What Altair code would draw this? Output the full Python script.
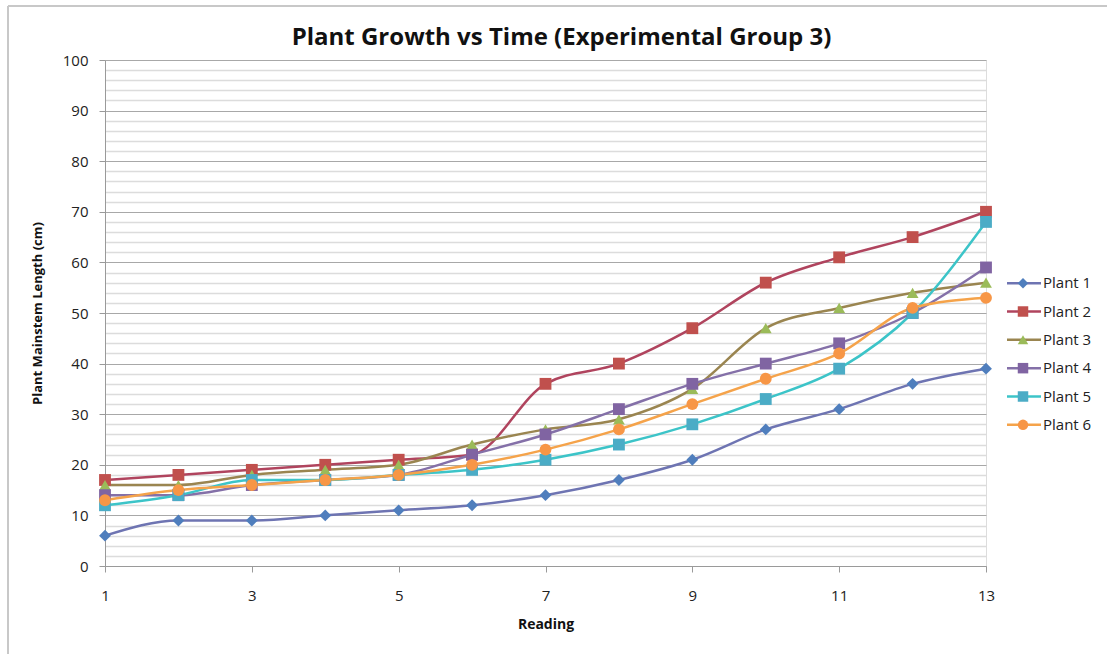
import altair as alt
import pandas as pd

# Readings taken for each plant (mainstem length in cm)
readings = list(range(1, 14))
plants = ["Plant 1", "Plant 2", "Plant 3", "Plant 4", "Plant 5", "Plant 6"]
plant_1 = [6, 9, 9, 10, 11, 12, 14, 17, 21, 27, 31, 36, 39]
plant_2 = [17, 18, 19, 20, 21, 22, 36, 40, 47, 56, 61, 65, 70]
plant_3 = [16, 16, 18, 19, 20, 24, 27, 29, 35, 47, 51, 54, 56]
plant_4 = [14, 14, 16, 17, 18, 22, 26, 31, 36, 40, 44, 50, 59]
plant_5 = [12, 14, 17, 17, 18, 19, 21, 24, 28, 33, 39, 50, 68]
plant_6 = [13, 15, 16, 17, 18, 20, 23, 27, 32, 37, 42, 51, 53]
chart_title = "Plant Growth vs Time (Experimental Group 3)"

series = [plant_1, plant_2, plant_3, plant_4, plant_5, plant_6]
rows = []
for name, vals in zip(plants, series):
    for r, v in zip(readings, vals):
        rows.append({"plant": name, "reading": r, "length": v})
df = pd.DataFrame(rows)
legend_df = pd.DataFrame({"plant": plants})
title_df = pd.DataFrame({"title": [chart_title]})

line_colors = ["#6e74b2", "#b0445e", "#9a8550", "#8470a8", "#3cc4c8", "#f5a34a"]
marker_colors = ["#4f7ebd", "#c0504d", "#9bbb59", "#8064a2", "#4bacc6", "#f79646"]
marker_shapes = ["diamond", "square", "triangle-up", "square", "square", "circle"]

FONT = "Open Sans"
W, H = 881, 506

stroke_scale = alt.Scale(domain=plants, range=line_colors)
fill_scale = alt.Scale(domain=plants, range=marker_colors)
shape_scale = alt.Scale(domain=plants, range=marker_shapes)

x_enc = alt.X(
    "reading:Q",
    scale=alt.Scale(domain=[1, 13], nice=False, zero=False),
    axis=alt.Axis(
        title="Reading",
        values=[1, 3, 5, 7, 9, 11, 13],
        format="d",
        grid=False,
        labelFlush=False,
        domainColor="#9a9a9a",
        tickColor="#9a9a9a",
        tickSize=6,
        labelPadding=16,
        labelFontSize=15,
        labelColor="#222222",
        labelFont=FONT,
        titleFont=FONT,
        titleFontSize=14,
        titleFontWeight="bold",
        titleColor="#111111",
        titlePadding=14,
    ),
)

y_enc = alt.Y(
    "length:Q",
    scale=alt.Scale(domain=[0, 100], nice=False),
    axis=alt.Axis(
        title="Plant Mainstem Length (cm)",
        values=list(range(0, 101, 2)),
        labelExpr="datum.value % 10 === 0 ? datum.label : ''",
        gridColor={"condition": {"test": "datum.value % 10 === 0", "value": "#a8a8a8"}, "value": "#dcdcdc"},
        gridWidth={"condition": {"test": "datum.value % 10 === 0", "value": 1.2}, "value": 1.5},
        tickOpacity={"condition": {"test": "datum.value % 10 === 0", "value": 1}, "value": 0},
        labelFlush=False,
        domainColor="#9a9a9a",
        tickColor="#9a9a9a",
        tickSize=6,
        labelPadding=11,
        labelFontSize=15,
        labelColor="#222222",
        labelFont=FONT,
        titleFont=FONT,
        titleFontSize=13,
        titleFontWeight="bold",
        titleColor="#111111",
        titlePadding=18,
    ),
)

lines = alt.Chart(df).mark_line(interpolate="monotone", strokeWidth=2.5).encode(
    x=x_enc,
    y=y_enc,
    stroke=alt.Stroke("plant:N", scale=stroke_scale, legend=None),
    detail="plant:N",
)

points = alt.Chart(df).mark_point(filled=True, size=140, opacity=1).encode(
    x=x_enc,
    y=y_enc,
    fill=alt.Fill("plant:N", scale=fill_scale, legend=None),
    shape=alt.Shape("plant:N", scale=shape_scale, legend=None),
)

plot = alt.layer(lines, points)

# Legend drawn as its own layer: a short line, a marker and the plant name
leg_y = alt.Y("plant:N", scale=alt.Scale(domain=plants, range=[209, 379]), axis=None)

leg_lines = alt.Chart(legend_df).mark_rule(strokeWidth=2.5).encode(
    x=alt.value(902),
    x2=alt.value(936),
    y=leg_y,
    stroke=alt.Stroke("plant:N", scale=stroke_scale, legend=None),
)
leg_points = alt.Chart(legend_df).mark_point(filled=True, size=110, opacity=1).encode(
    x=alt.value(918),
    y=leg_y,
    fill=alt.Fill("plant:N", scale=fill_scale, legend=None),
    shape=alt.Shape("plant:N", scale=shape_scale, legend=None),
)
leg_text = alt.Chart(legend_df).mark_text(
    align="left", baseline="middle", font=FONT, fontSize=15, color="#222222"
).encode(x=alt.value(938), y=leg_y, text="plant:N")

legend = alt.layer(leg_lines, leg_points, leg_text)

# Chart heading
heading = alt.Chart(title_df).mark_text(
    align="center", baseline="alphabetic", font=FONT, fontSize=24,
    fontWeight="bold", color="#111111"
).encode(x=alt.value(W / 2 + 16), y=alt.value(-15), text="title:N")

# Light frame around the chart area
frame_left = alt.Chart(legend_df).mark_rule(color="#c8c8c8", strokeWidth=2).encode(
    x=alt.value(-97), y=alt.value(-54), y2=alt.value(640)
)
frame_top = alt.Chart(legend_df).mark_rule(color="#c8c8c8", strokeWidth=2).encode(
    x=alt.value(-97), x2=alt.value(1060), y=alt.value(-54)
)

chart = (
    alt.layer(plot, legend, heading, frame_left, frame_top)
    .resolve_scale(y="independent")
    .properties(
        width=W,
        height=H,
        autosize=alt.AutoSizeParams(type="none"),
        padding={"left": 105, "top": 60, "right": 121, "bottom": 88},
    )
    .configure_view(stroke=None)
    .configure(background="white")
)

chart.save("out.html", embed_options={"renderer": "svg", "actions": False})
